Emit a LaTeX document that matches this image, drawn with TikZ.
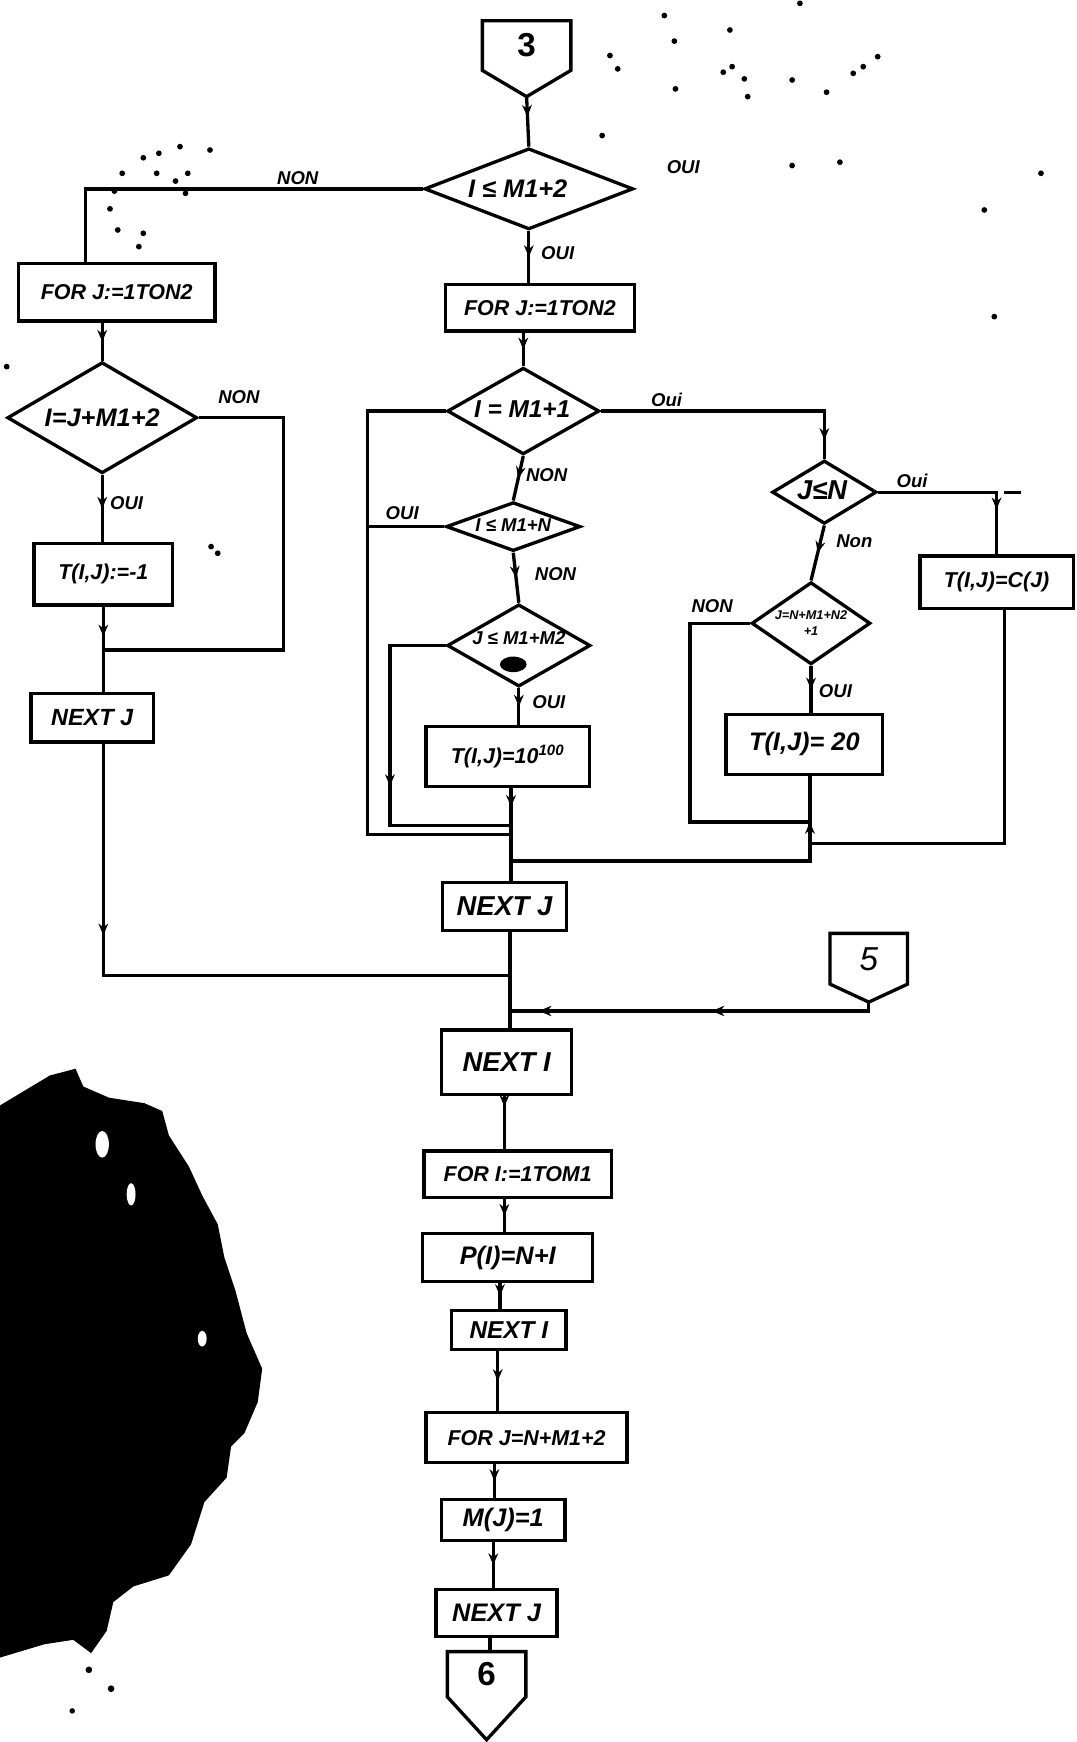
\documentclass[tikz,border=0pt]{standalone}
\usepackage{fontspec}
\setmainfont{Liberation Sans}
\usetikzlibrary{shapes.geometric,arrows.meta,decorations.markings,calc}
\tikzset{
  ln/.style={line width=1.7pt},
  box/.style={draw, line width=1.7pt, rectangle, inner sep=0pt, font=\bfseries\itshape\fontsize{11}{12}\selectfont},
  bigbox/.style={box, font=\bfseries\itshape\fontsize{14}{15}\selectfont},
  dia/.style={draw, line width=1.7pt, diamond, inner sep=0pt},
  hid/.style={rectangle, inner sep=0pt},
  lbl/.style={font=\bfseries\itshape\fontsize{9.5}{10}\selectfont, inner sep=1pt},
  dtxt/.style={font=\bfseries\itshape\fontsize{11}{12}\selectfont, inner sep=0pt},
  midarr/.style={postaction={decorate}, decoration={markings, mark=at position #1 with {\arrow{Stealth[length=6pt,width=5pt]}}}},
  midarr/.default=0.5,
  uparr/.style={postaction={decorate}, decoration={markings, mark=at position #1 with {\arrowreversed{Stealth[length=6pt,width=5pt]}}}},
  speck/.style={fill=black},
}
\begin{document}
\begin{tikzpicture}[x=0.02cm, y=-0.02cm, line join=miter]
\useasboundingbox (0,0) rectangle (969,1568);

% ---------- nodes ----------
\node[hid, minimum width=1.58cm, minimum height=0.88cm] (c3) at (474,41) {};
\coordinate (c3tip) at (474,87);
\draw[ln] (c3.north west) -- (c3.north east) -- (c3.south east) -- (c3tip) -- (c3.south west) -- cycle;
\node[font=\bfseries\fontsize{17}{18}\selectfont] (c3t) at (c3) {3};

\node[dia, minimum width=3.76cm, minimum height=1.46cm] (D1) at (476,170) {};
\node[dtxt, font=\bfseries\itshape\fontsize{13}{14}\selectfont] (D1t) at (466,170) {I ≤ M1+2};

\node[box, minimum width=3.54cm, minimum height=1.04cm] (BL1) at (105,263) {FOR J:=1TON2};
\node[box, minimum width=3.4cm, minimum height=0.84cm] (BR1) at (486,277) {FOR J:=1TON2};

\node[dia, minimum width=3.42cm, minimum height=2.0cm] (DL) at (92,376) {};
\node[dtxt, font=\bfseries\itshape\fontsize{13}{14}\selectfont] (DLt) at (92,376) {I=J+M1+2};

\node[box, minimum width=2.5cm, minimum height=1.1cm] (T1) at (93,517) {T(I,J):=-1};
\node[box, minimum width=2.2cm, minimum height=0.88cm, font=\bfseries\itshape\fontsize{12}{13}\selectfont] (NJL) at (83,646) {NEXT J};

\node[dia, minimum width=2.74cm, minimum height=1.56cm] (D2) at (471,370) {};
\node[dtxt, font=\bfseries\itshape\fontsize{12.5}{13}\selectfont] (D2t) at (470,368) {I = M1+1};

\node[dia, minimum width=2.42cm, minimum height=0.88cm] (D4) at (462,474) {};
\node[dtxt, font=\bfseries\itshape\fontsize{9.5}{10}\selectfont] (D4t) at (462,473) {I ≤ M1+N};

\node[dia, minimum width=2.58cm, minimum height=1.48cm] (D5) at (467,581) {};
\node[dtxt, font=\bfseries\itshape\fontsize{9.5}{10}\selectfont] (D5t) at (467,574) {J ≤ M1+M2};
\fill (462,598) ellipse (12 and 7);

\node[box, minimum width=2.94cm, minimum height=1.08cm] (T10) at (457,681) {T(I,J)=10\textsuperscript{100}};

\node[dia, minimum width=1.88cm, minimum height=1.14cm] (D3) at (742,443) {};
\node[dtxt, font=\bfseries\itshape\fontsize{14}{15}\selectfont] (D3t) at (740,441) {J≤N};

\node[box, minimum width=2.76cm, minimum height=0.94cm] (TC) at (897,524) {T(I,J)=C(J)};

\node[dia, minimum width=2.14cm, minimum height=1.48cm] (D6) at (730,561) {};
\node[dtxt, font=\bfseries\itshape\fontsize{6.5}{8}\selectfont, align=center] (D6t) at (730,561) {J=N+M1+N2\\+1};

\node[box, minimum width=2.82cm, minimum height=1.08cm, font=\bfseries\itshape\fontsize{13}{14}\selectfont] (T20) at (724,670) {T(I,J)= 20};

\node[bigbox, minimum width=2.24cm, minimum height=0.86cm] (NXJ) at (454,816) {NEXT J};

\node[hid, minimum width=1.38cm, minimum height=0.9cm] (c5) at (782,863) {};
\coordinate (c5tip) at (782,902);
\draw[ln] (c5.north west) -- (c5.north east) -- (c5.south east) -- (c5tip) -- (c5.south west) -- cycle;
\node[font=\itshape\fontsize{17}{18}\selectfont] (c5t) at (c5) {5};

\node[bigbox, minimum width=2.34cm, minimum height=1.16cm] (NXI) at (456,956) {NEXT I};
\node[box, minimum width=3.38cm, minimum height=0.84cm] (FORI) at (466,1057) {FOR I:=1TOM1};
\node[box, minimum width=3.06cm, minimum height=0.86cm, font=\bfseries\itshape\fontsize{13}{14}\selectfont] (PI) at (457,1132) {P(I)=N+I};
\node[box, minimum width=2.06cm, minimum height=0.7cm, font=\bfseries\itshape\fontsize{12.5}{13}\selectfont] (NXI2) at (458,1197) {NEXT I};
\node[box, minimum width=3.62cm, minimum height=0.9cm] (FORJ2) at (474,1294) {FOR J=N+M1+2};
\node[box, minimum width=2.22cm, minimum height=0.74cm, font=\bfseries\itshape\fontsize{13}{14}\selectfont] (MJ) at (453,1368) {M(J)=1};
\node[box, minimum width=2.18cm, minimum height=0.84cm, font=\bfseries\itshape\fontsize{13}{14}\selectfont] (NXJ2) at (447,1452) {NEXT J};

\node[hid, minimum width=1.4cm, minimum height=0.8cm] (c6) at (438,1507) {};
\coordinate (c6tip) at (438,1566);
\draw[ln] (c6.north west) -- (c6.north east) -- (c6.south east) -- (c6tip) -- (c6.south west) -- cycle;
\node[font=\bfseries\fontsize{17}{18}\selectfont] (c6t) at (c6) {6};

% ---------- helper coordinates ----------
\coordinate (nL) at (77,237);
\coordinate (rL) at (255,376);
\coordinate (jL) at (92,585);
\coordinate (jM1) at (459,878);
\coordinate (oL1) at (331,370);
\coordinate (jM2) at (460,751);
\coordinate (iL1) at (351,581);
\coordinate (jM4) at (460,743);
\coordinate (rC) at (904,443);
\coordinate (oR1) at (621,561);
\coordinate (jR1) at (729,740);
\coordinate (jR2) at (729,759);
\coordinate (jR3) at (729,775);
\coordinate (jM3) at (460,775);
\coordinate (c5b) at (782,910);
\coordinate (jM5) at (459,910);
\coordinate (v1) at (454,0);
\coordinate (v2) at (450,0);
\coordinate (v3) at (448,0);
\coordinate (v4) at (445,0);
\coordinate (v5) at (444,0);
\coordinate (v6) at (441,0);

% ---------- connectors ----------
\draw[ln, midarr=0.4] (c3tip) -- (D1.north);
\draw[ln] (D1.west) -| (nL);
\draw[ln, midarr] (D1.south) -- (D1.south |- BR1.north);
\draw[ln, midarr] (DL.north |- BL1.south) -- (DL.north);
\draw[ln] (DL.east) -- (rL) |- (jL);
\draw[ln, midarr] (DL.south) -- (DL.south |- T1.north);
\draw[ln, midarr=0.35] (T1.south) -- (T1.south |- NJL.north);
\draw[ln, midarr=0.3] (T1.south |- NJL.south) -- (T1.south |- jM1) -- (jM1);

\draw[ln, midarr] (D2.north |- BR1.south) -- (D2.north);
\draw[ln] (D2.west) -- (oL1) |- (jM2);
\draw[ln, midarr=0.93] (D2.east) -| (D3.north);
\draw[ln, midarr] (D2.south) -- (D4.north);
\draw[ln] (D4.west) -- (D4.west -| oL1);
\draw[ln, midarr] (D4.south) -- (D5.north);
\draw[ln, midarr=0.55] (D5.west) -- (iL1) |- (jM4);
\draw[ln, midarr] (D5.south) -- (D5.south |- T10.north);
\draw[ln, midarr=0.2] (T10.south -| jM2) -- (jM2 |- NXJ.north);

\draw[ln, midarr=0.75] (D3.east) -| (TC.north);
\draw[ln] (rC) -- ++(15,0);
\draw[ln, midarr] (D3.south) -- (D6.north);
\draw[ln] (D6.west) -- (oR1) |- (jR1);
\draw[ln, midarr] (D6.south) -- (D6.south |- T20.north);
\draw[ln] (TC.south -| rC) |- (jR2);
\draw[ln, uparr=0.12] (T20.south -| jR3) -- (jR3) -- (jM3);

\draw[ln] (NXJ.south -| jM1) -- (jM1 |- NXI.north);
\draw[ln, midarr=0.45, midarr=0.92] (c5tip) -- (c5b) -- (jM5);

\draw[ln, midarr=0.2] (NXI.south -| v1) -- (FORI.north -| v1);
\draw[ln, midarr] (FORI.south -| v1) -- (PI.north -| v1);
\draw[ln, midarr] (PI.south -| v2) -- (NXI2.north -| v2);
\draw[ln, midarr] (NXI2.south -| v3) -- (FORJ2.north -| v3);
\draw[ln, midarr] (FORJ2.south -| v4) -- (MJ.north -| v4);
\draw[ln, midarr] (MJ.south -| v5) -- (NXJ2.north -| v5);
\draw[ln] (NXJ2.south -| v6) -- (c6.north -| v6);

% ---------- labels ----------
\node[lbl] (l1) at (615,150) {OUI};
\node[lbl] (l2) at (268,160) {NON};
\node[lbl] (l3) at (502,228) {OUI};
\node[lbl] (l4) at (215,357) {NON};
\node[lbl] (l5) at (114,453) {OUI};
\node[lbl] (l6) at (600,360) {Oui};
\node[lbl] (l7) at (492,428) {NON};
\node[lbl] (l8) at (362,462) {OUI};
\node[lbl] (l9) at (500,517) {NON};
\node[lbl] (l10) at (494,632) {OUI};
\node[lbl] (l11) at (821,433) {Oui};
\node[lbl] (l12) at (769,487) {Non};
\node[lbl] (l13) at (641,546) {NON};
\node[lbl] (l14) at (752,622) {OUI};

% ---------- specks and ink blot ----------
\foreach \p in {(162,132),(129,142),(143,138),(189,135),(169,156),(141,156),(158,163),(110,156),(167,174),(103,172),(99,188),(106,207),(129,210),(125,222),
  (598,14),(657,27),(607,37),(549,50),(556,62),(659,60),(651,65),(670,71),(608,80),(673,87),(713,72),(744,83),(768,66),(777,60),(790,51),(720,3),(542,122),(713,149),(756,146),(937,156),(886,189),(895,285),(190,492),(196,498),(6,330)}
  \fill[speck] \p circle (2.6);
\fill (0,995) -- (20,983) -- (45,968) -- (68,962) -- (75,978) -- (98,988) -- (130,993) -- (146,1000) -- (152,1022) -- (170,1050) -- (182,1076) -- (196,1102) -- (202,1132) -- (212,1162) -- (222,1200) -- (236,1232) -- (232,1262) -- (220,1290) -- (208,1302) -- (204,1330) -- (184,1352) -- (172,1390) -- (152,1418) -- (120,1428) -- (102,1442) -- (96,1468) -- (82,1488) -- (66,1476) -- (40,1480) -- (0,1492) -- cycle;
\fill[white] (92,1030) ellipse (6 and 12);
\fill[white] (118,1075) ellipse (4 and 10);
\fill[white] (182,1205) ellipse (4 and 7);
\fill[speck] (100,1520) circle (3);
\fill[speck] (65,1540) circle (2.5);
\fill[speck] (80,1503) circle (3);
\end{tikzpicture}
\end{document}
